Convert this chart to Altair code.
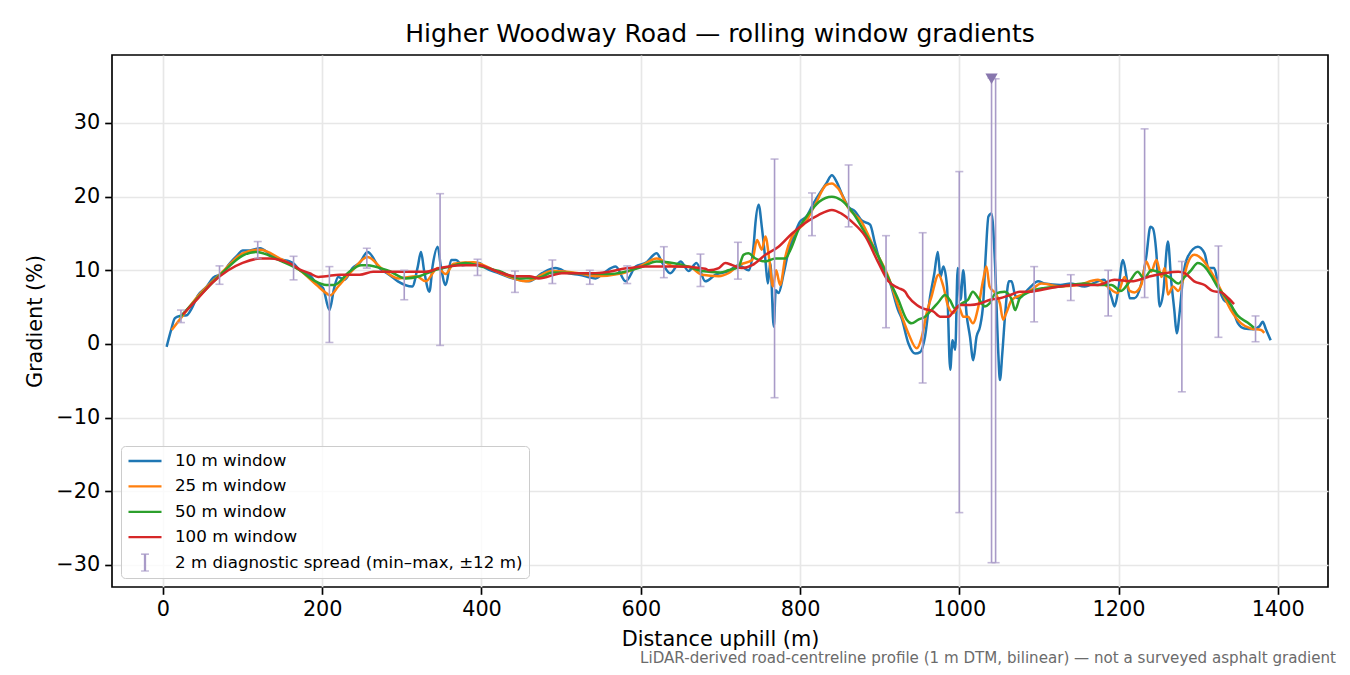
"""
Rolling window gradient profile for Higher Woodway Road.
"""
import pandas as pd
import altair as alt

# Series: (distance uphill m, gradient %)
win_10m = [(4.6, -0.4), (10, 1.8), (15, 3.5), (21, 3.8), (30, 3.9), (36, 4.8), (44, 6.6), (55, 7.8),
           (63, 9.0), (75, 9.6), (82, 10.7), (94, 12.1), (100, 12.7), (109, 12.7), (122, 13.0),
           (134, 12.2), (147, 11.5), (159, 11.2), (163, 11.0), (172, 10.0), (184, 9.4), (193, 8.2),
           (201, 7.6), (209, 4.6), (215, 7.6), (220, 9.1), (228, 8.7), (238, 10.3), (247, 11.0),
           (257, 12.5), (272, 10.3), (284, 9.4), (295, 8.5), (313, 7.8), (320, 10.5), (324, 12.5),
           (328, 9.9), (334.6, 7.1), (338.5, 10.5), (345, 13.2), (349, 10.5), (355, 8.0), (362, 11.4),
           (368, 11.4), (376, 10.7), (397, 11.0), (405, 10.3), (422, 9.6), (439, 8.9), (460, 8.5),
           (476, 9.6), (493, 10.3), (510, 9.6), (522.6, 9.4), (543.5, 8.9), (553, 9.6), (568.5, 10.5),
           (581, 8.5), (593.6, 10.5), (606, 11.0), (620, 12.3), (627, 11.0), (637, 9.6), (650, 11.2),
           (660, 9.9), (670, 11.0), (681, 8.5), (694, 9.4), (710.5, 9.9), (723, 10.7), (735.6, 10.0),
           (742, 13.7), (744, 16.4), (748, 18.9), (752, 15.9), (756.5, 11.4), (759.6, 8.2),
           (762.7, 11.0), (767, 2.35), (769.5, 7.3), (773, 6.9), (779.5, 9.6), (786, 12.8),
           (792, 14.6), (800, 16.6), (808, 17.3), (817, 19.1), (825, 20.5), (833, 21.8), (840, 22.9),
           (846, 22.0), (852, 20.5), (861, 18.6), (869, 18.0), (877, 16.8), (888, 16.2), (894, 13.7),
           (898.5, 11.9), (907, 9.6), (911, 8.9), (923.5, 4.5), (927.5, 3.5), (936, 0.1),
           (944.5, -1.3), (951, -1.1), (957, 1.0), (963.3, 6.4), (968.7, 9.6), (973, 12.5),
           (976.3, 9.1), (980, 10.5), (984.6, 7.8), (988.6, -3.5), (991.5, 0.5), (994.9, -0.8),
           (998, 10.3), (1001.6, 6.0), (1005, 10.0), (1009, 4.2), (1013.4, 1.0), (1017.5, -2.2),
           (1021.7, 1.0), (1026, 2.35), (1030, 5.5), (1033.3, 12.3), (1036.6, 17.3), (1040.5, 17.7),
           (1044.8, 11.0), (1049, -1.3), (1051, -4.9), (1054, -1.3), (1057.7, 4.2), (1062.3, 8.5),
           (1065.6, 8.5), (1070, 6.65), (1074, 6.2), (1082, 6.9), (1090, 7.8), (1099, 8.5),
           (1107, 8.2), (1127, 8.0), (1140, 8.2), (1157.5, 7.8), (1174, 8.5), (1182, 8.7),
           (1191, 6.4), (1195, 5.1), (1199, 6.9), (1205.5, 11.4), (1210, 9.1), (1214, 6.2),
           (1220, 6.2), (1228.5, 8.2), (1234.8, 11.85), (1240, 15.9), (1243, 15.7), (1247.5, 12.3),
           (1251.6, 5.1), (1256, 6.9), (1262, 13.9), (1266, 8.7), (1270, 4.6), (1273, 1.45),
           (1277, 4.6), (1281, 9.1), (1287, 11.85), (1299.5, 13.2), (1308, 12.3), (1313, 10.3),
           (1320, 10.3), (1326, 7.6), (1332, 6.0), (1341, 5.3), (1350, 2.8), (1358, 2.1),
           (1369, 2.0), (1377, 2.4), (1381, 3.0), (1385, 2.0), (1391, 0.5)]

win_25m = [(11, 1.9), (21, 3.3), (44, 6.5), (75, 9.8), (100, 12.3), (122, 12.8), (147, 11.6),
           (172, 10.0), (193, 8.0), (205, 6.9), (210, 6.6), (220, 7.8), (238, 10.0), (257, 11.8),
           (275, 10.2), (296, 8.9), (318, 9.2), (330, 8.5), (345, 10.3), (355, 9.5), (365, 10.9),
           (390, 11.1), (420, 9.8), (456, 8.5), (489, 9.9), (522, 9.6), (543, 9.2), (577, 9.6),
           (602, 10.7), (620, 11.6), (643, 10.5), (660, 10.5), (677, 9.4), (698, 9.2), (710, 9.6),
           (723, 10.7), (740, 11.4), (746, 14.1), (752, 12.8), (756.5, 14.6), (761.5, 11.4),
           (766, 7.8), (770, 10.0), (775, 8.0), (781.5, 11.8), (790, 14.6), (806, 16.4), (819, 18.9),
           (833, 21.6), (840, 21.8), (848, 21.1), (861, 18.4), (877, 16.6), (894, 12.8),
           (911, 9.1), (923.5, 5.1), (936, 1.45), (946.6, -0.6), (953, 1.0), (959, 4.2), (965, 6.4),
           (974, 9.4), (980, 7.8), (986, 5.1), (992.6, 4.2), (999, 5.1), (1005, 3.7), (1011, 3.7),
           (1017, 2.8), (1024, 5.1), (1030, 8.7), (1034, 10.5), (1038, 7.8), (1045, 6.9),
           (1051, 5.5), (1055, 3.3), (1059, 4.2), (1066, 6.0), (1078, 6.65), (1090, 7.3),
           (1103, 8.2), (1127, 7.8), (1149, 8.0), (1174, 8.7), (1186, 7.8), (1199, 6.9),
           (1207.6, 9.1), (1214, 7.2), (1220, 7.0), (1228.5, 8.0), (1234.8, 11.2), (1241, 9.8),
           (1247.5, 11.4), (1254, 9.1), (1258, 10.3), (1262, 6.7), (1268.5, 7.8), (1275, 7.2),
           (1281, 8.7), (1287, 11.0), (1295, 12.1), (1304, 11.6), (1312, 10.5), (1320, 9.1),
           (1329, 7.2), (1341, 4.6), (1354, 2.8), (1366, 2.1), (1379, 1.9), (1383, 1.5)]

win_50m = [(21, 3.6), (44, 6.3), (75, 9.7), (100, 12.0), (117, 12.5), (147, 11.3), (172, 10.0),
           (190, 8.6), (205, 8.0), (215, 8.0), (234, 9.8), (249, 10.7), (255, 10.7), (284, 9.9),
           (305, 8.9), (322, 9.2), (338.5, 9.9), (360, 10.5), (380, 11.0), (400, 10.5), (422, 9.9),
           (447, 8.9), (472, 9.0), (489, 9.7), (522, 9.6), (560, 9.5), (600, 10.4), (620, 11.2),
           (650, 10.8), (677, 9.9), (700, 9.7), (710, 10.0), (723, 10.5), (729, 12.1), (735, 12.3),
           (744, 11.6), (756.5, 11.2), (769, 11.6), (781.5, 11.6), (788, 12.8), (798, 15.5),
           (811, 17.7), (824, 19.3), (840, 20.0), (852, 19.5), (865, 18.0), (882, 15.0),
           (898.5, 11.85), (911, 8.9), (923.5, 6.0), (934, 3.3), (940, 2.8), (948.6, 3.3),
           (957, 3.7), (965, 4.6), (974, 5.7), (982, 6.65), (988, 6.0), (994.6, 4.8), (1003, 5.5),
           (1011, 6.0), (1017, 7.1), (1024, 6.2), (1032, 5.1), (1038, 5.5), (1045, 6.8),
           (1057, 7.1), (1066, 6.0), (1070, 4.6), (1076, 6.2), (1089, 7.1), (1107, 7.6),
           (1127, 7.8), (1157, 8.2), (1174, 8.0), (1191, 8.0), (1203, 7.2), (1214, 8.5),
           (1224, 9.8), (1232, 8.9), (1241, 10.0), (1254, 9.6), (1266, 8.9), (1275, 8.2),
           (1283, 9.1), (1291, 10.0), (1299.5, 11.0), (1308, 10.5), (1316, 9.3), (1324, 7.8),
           (1337, 6.0), (1350, 3.8), (1362, 2.9), (1370, 2.2)]

win_100m = [(25, 4.0), (44, 6.2), (63, 8.4), (82, 10.0), (100, 11.0), (122, 11.6), (134, 11.6),
            (147, 11.4), (160, 10.9), (172, 10.1), (184, 9.6), (195, 9.1), (205, 9.2), (222, 9.4),
            (247, 9.4), (264, 9.8), (296, 9.8), (330, 9.8), (347, 10.3), (376, 10.7), (397, 10.7),
            (418, 9.9), (443, 9.2), (460, 9.2), (472, 8.9), (501, 9.6), (543, 9.6), (585, 10.3),
            (606, 10.5), (647, 10.5), (681, 10.2), (685.5, 10.0), (698, 10.3), (706, 11.0),
            (715, 10.7), (727, 10.3), (740, 10.7), (756.5, 12.1), (773, 13.2), (790, 15.0),
            (806, 16.4), (823, 17.5), (840, 18.2), (852, 17.7), (865, 16.6), (882, 14.6),
            (898.5, 11.0), (911, 8.5), (923.5, 7.6), (932, 7.1), (936, 6.4), (946.6, 5.3),
            (955, 4.8), (967.5, 4.4), (976, 3.7), (986.5, 3.7), (992.6, 4.4), (1001, 5.3),
            (1013.5, 5.3), (1026, 5.5), (1038.6, 6.0), (1051, 6.2), (1064, 6.65), (1076, 7.1),
            (1089, 7.1), (1101, 7.3), (1126.6, 7.8), (1149, 8.0), (1174, 8.0), (1195, 8.7),
            (1216, 8.5), (1237, 9.1), (1258, 9.6), (1275, 9.8), (1283, 9.6), (1295, 8.5),
            (1308, 8.0), (1318, 7.2), (1329, 7.0), (1339, 6.1), (1345, 5.4)]

# 2 m diagnostic spread: position, min, max
spread_dist = [22.6, 71, 119, 164, 209, 256, 303, 348, 395, 442, 489, 536, 583, 629, 675, 722,
               768, 815, 861, 908, 954, 1000, 1040.5, 1045.6, 1094, 1140, 1187, 1232.7, 1279.5,
               1325.4, 1372]
spread_min = [2.9, 8.1, 11.6, 8.7, 0.2, 10.3, 6.0, -0.2, 9.3, 7.0, 8.2, 8.1, 8.2, 9.0, 7.8, 8.8,
              -7.3, 14.7, 15.9, 2.2, -5.3, -22.9, -29.7, -29.7, 3.0, 5.9, 3.8, 6.3, -6.5, 0.9, 0.3]
spread_max = [4.6, 10.6, 13.9, 11.9, 10.5, 13.0, 10.0, 20.4, 11.5, 9.9, 11.4, 10.0, 10.6, 13.2,
              12.2, 13.8, 25.1, 20.5, 24.3, 14.7, 15.1, 23.4, 36.1, 36.0, 10.5, 9.4, 10.0, 29.2,
              11.2, 13.3, 3.8]
# Clipped spike marker
spike_dist = [1040.5]
spike_grad = [36.0]

labels = ["10 m window", "25 m window", "50 m window", "100 m window",
          "2 m diagnostic spread (min\u2013max, \u00b112 m)"]
colors = ["#1f77b4", "#ff7f0e", "#2ca02c", "#d62728", "#a99bc8"]
note = ("LiDAR-derived road-centreline profile (1 m DTM, bilinear) \u2014 "
        "not a surveyed asphalt gradient")

FONT = "DejaVu Sans"

# Long-form table for the lines.
frames = []
for label, pts in zip(labels[:4], [win_10m, win_25m, win_50m, win_100m]):
    f = pd.DataFrame(pts, columns=["dist", "grad"])
    f["series"] = label
    frames.append(f)
lines = pd.concat(frames, ignore_index=True)

spread = pd.DataFrame({"dist": spread_dist, "lo": spread_min, "hi": spread_max})
spread["series"] = labels[4]
caps = pd.concat([
    pd.DataFrame({"dist": spread_dist, "grad": spread_min}),
    pd.DataFrame({"dist": spread_dist, "grad": spread_max}),
], ignore_index=True)
caps["series"] = labels[4]
spike = pd.DataFrame({"dist": spike_dist, "grad": spike_grad})

xscale = alt.Scale(domain=[-64, 1463], nice=False, zero=False)
yscale = alt.Scale(domain=[-33.0, 39.23], nice=False, zero=False)

xaxis = alt.Axis(values=list(range(0, 1401, 200)), format="d", title="Distance uphill (m)")
yaxis = alt.Axis(values=list(range(-30, 31, 10)), title="Gradient (%)")

legend = alt.Legend(
    orient="bottom-left", offset=9, padding=6,
    fillColor="rgba(255,255,255,0.8)", strokeColor="#cccccc", cornerRadius=4,
    labelFont=FONT, labelFontSize=16.7, labelColor="black", labelLimit=600,
    labelOffset=12, symbolSize=1089, symbolStrokeWidth=2.3, symbolOpacity=1,
    clipHeight=18, rowPadding=7.4,
)
color = alt.Color("series:N", title=None, legend=legend,
                  scale=alt.Scale(domain=labels, range=colors))
shape = alt.Shape("series:N", title=None, legend=legend,
                  scale=alt.Scale(domain=labels, range=[
                      "stroke", "stroke", "stroke", "stroke",
                      "M0,-0.55L0,0.55M-0.24,-0.55L0.24,-0.55M-0.24,0.55L0.24,0.55"]))

x = alt.X("dist:Q", scale=xscale, axis=xaxis)
y = alt.Y("grad:Q", scale=yscale, axis=yaxis)

# One layer per window so the draw order matches (red on top).
layers = []
for label in labels[:4]:
    layers.append(
        alt.Chart(lines).transform_filter(alt.datum.series == label)
        .mark_line(strokeWidth=2.5, interpolate="monotone")
        .encode(x=x, y=y, color=color)
    )

rules = alt.Chart(spread).mark_rule(strokeWidth=1.6).encode(
    x=x, y=alt.Y("lo:Q", scale=yscale, axis=yaxis), y2="hi:Q", color=color
)
ticks = alt.Chart(caps).mark_tick(orient="horizontal", size=8, thickness=1.6).encode(
    x=x, y=y, color=color
)
marker = alt.Chart(spike).mark_point(shape="triangle-down", filled=True, size=150,
                                     opacity=1, color="#8776ad").encode(x=x, y=y)
# Invisible points that carry the merged colour/shape legend.
keys = alt.Chart(caps).mark_point(filled=False, opacity=0).encode(
    x=x, y=y, color=color, shape=shape
)
footnote = alt.Chart(pd.DataFrame({"note": [note]})).mark_text(
    align="right", baseline="alphabetic", font=FONT, fontSize=15.1, color="#6b6b6b"
).encode(x=alt.value(1224), y=alt.value(608), text="note:N")

chart = alt.layer(*layers, rules, ticks, marker, keys, footnote).properties(
    width=1216, height=532,
    autosize=alt.AutoSizeParams(type="none"),
    padding={"left": 104, "top": 47, "right": 14, "bottom": 79},
    title=alt.TitleParams(
        "Higher Woodway Road \u2014 rolling window gradients",
        font=FONT, fontSize=25, fontWeight="normal", color="black",
        anchor="middle", offset=8,
    ),
).configure_view(
    stroke="black", strokeWidth=1.67
).configure_axis(
    labelFont=FONT, labelFontSize=20.8, labelColor="black",
    titleFont=FONT, titleFontSize=20.8, titleFontWeight="normal", titleColor="black",
    tickColor="black", tickSize=7.3, tickWidth=1.67, labelPadding=5,
    domain=False, grid=True, gridColor="#e7e7e7", gridWidth=1.67,
).configure_axisX(
    titlePadding=10
).configure_axisY(
    titlePadding=10
)

chart.save("out.html", embed_options={"renderer": "svg", "actions": False})
